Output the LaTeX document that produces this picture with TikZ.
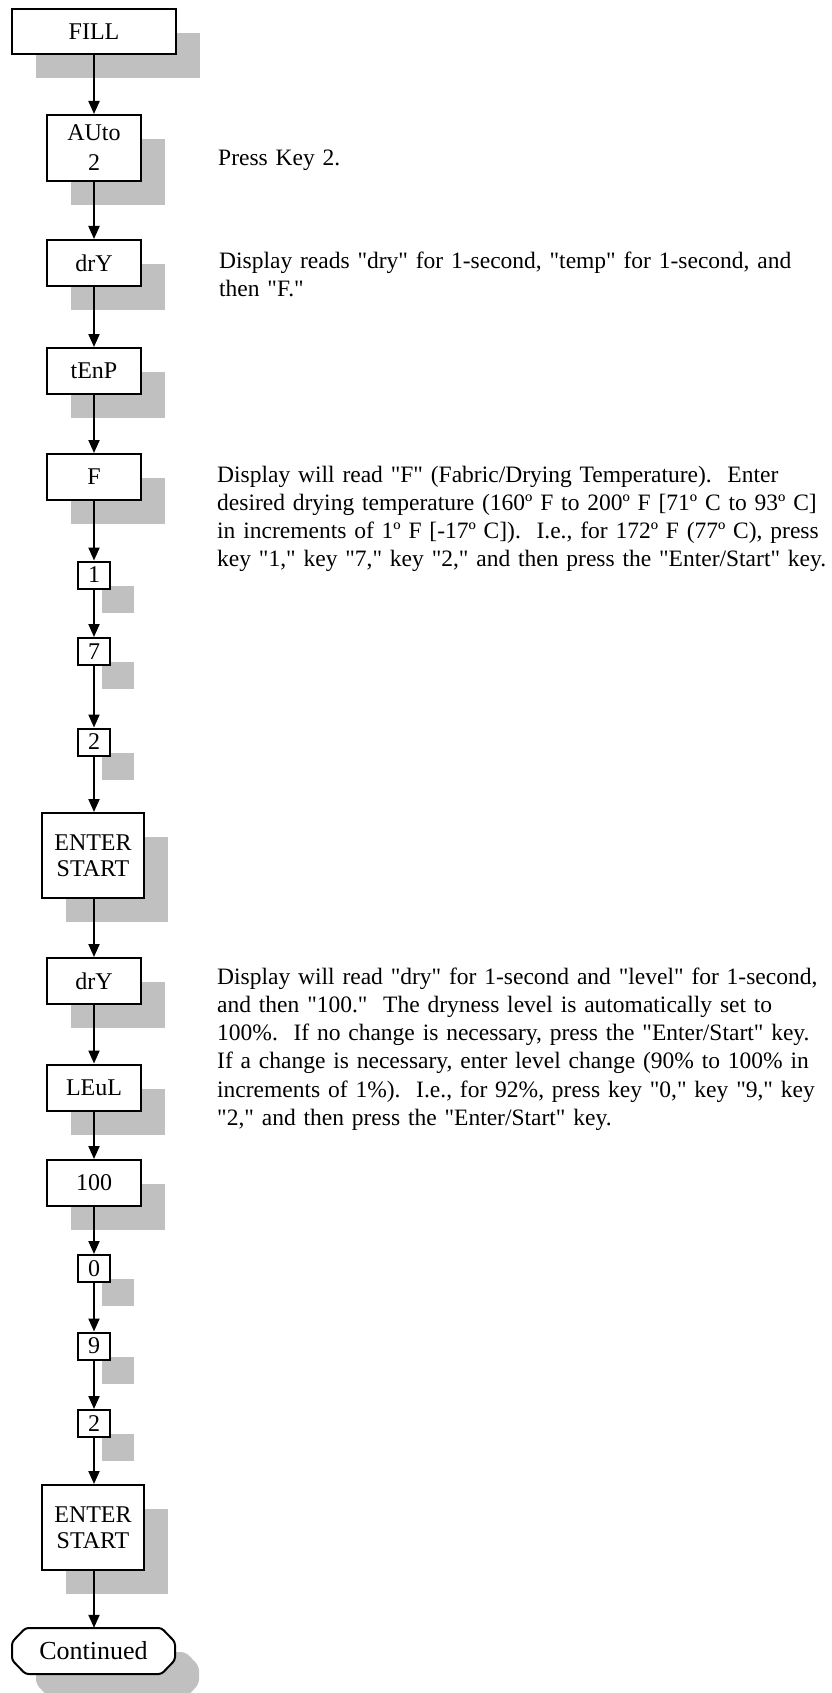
\documentclass[tikz,border=0pt]{standalone}
\usepackage{fontspec}
\setmainfont{Liberation Serif}[Ligatures=TeXOff]
\usetikzlibrary{arrows.meta,shadows}
\definecolor{shd}{RGB}{192,192,192}
\begin{document}
\begin{tikzpicture}[x=1pt,y=-1pt,
  every node/.style={font=\fontsize{24}{28.3}\selectfont},
  box/.style={draw, line width=2pt, fill=white, inner sep=0pt, align=center,
    drop shadow={shadow xshift=24pt, shadow yshift=-24pt, opacity=1, fill=shd}},
  midbox/.style={box, minimum width=94pt, minimum height=46pt},
  keybox/.style={box, minimum width=32pt, minimum height=27pt},
  entbox/.style={box, minimum width=102pt, minimum height=85pt, font=\fontsize{24}{26}\selectfont},
  arr/.style={line width=2pt, -{Triangle[width=11pt,length=13pt]}},
  desc/.style={anchor=base west, inner sep=0pt, text width=800pt, align=left,
    font=\fontsize{23.5}{28.3}\selectfont}]
\useasboundingbox (0,0) rectangle (831,1693);

% boxes
\node[box, minimum width=164pt, minimum height=45pt] (fill) at (94,31.5) {FILL};
\node[box, minimum width=94pt, minimum height=66pt, font=\fontsize{24}{30}\selectfont] (auto) at (94,148) {AUto\\2};
\node[midbox] (dry1) at (94,263) {drY};
\node[midbox] (temp) at (94,371) {tEnP};
\node[midbox] (f) at (94,477) {F};
\node[keybox] (k1) at (94,575) {1};
\node[keybox] (k7) at (94,651.5) {7};
\node[keybox] (k2) at (94,742) {2};
\node[entbox] (ent1) at (93,855.5) {ENTER\\START};
\node[midbox] (dry2) at (94,981) {drY};
\node[midbox] (level) at (94,1087.5) {LEuL};
\node[midbox] (hund) at (94,1183) {100};
\node[keybox] (k0) at (94,1268.5) {0};
\node[keybox] (k9) at (94,1346) {9};
\node[keybox] (k2b) at (94,1423.5) {2};
\node[entbox] (ent2) at (93,1527.5) {ENTER\\START};

% terminator "Continued"
\coordinate (cc) at (93.5,1651);
\begin{scope}[shift={(cc)}]
  \fill[shd, rounded corners=5pt, shift={(24pt,-24pt)}]
    (-81.5,-9) -- (-68,-23) -- (68,-23) -- (81.5,-9) -- (81.5,9) -- (68,23) -- (-68,23) -- (-81.5,9) -- cycle;
  \filldraw[fill=white, draw=black, line width=2pt, rounded corners=3pt]
    (-81.5,-9) -- (-68,-23) -- (68,-23) -- (81.5,-9) -- (81.5,9) -- (68,23) -- (-68,23) -- (-81.5,9) -- cycle;
\end{scope}
\node[inner sep=0pt, minimum width=163pt, minimum height=46pt, font=\fontsize{26}{30}\selectfont] (cont) at (cc) {Continued};

% connectors
\draw[arr] (fill) -- (auto);
\draw[arr] (auto) -- (dry1);
\draw[arr] (dry1) -- (temp);
\draw[arr] (temp) -- (f);
\draw[arr] (f) -- (k1);
\draw[arr] (k1) -- (k7);
\draw[arr] (k7) -- (k2);
\draw[arr] (k2.south) -- (ent1.north -| k2.south);
\draw[arr] (ent1.south -| k2.south) -- (dry2);
\draw[arr] (dry2) -- (level);
\draw[arr] (level) -- (hund);
\draw[arr] (hund) -- (k0);
\draw[arr] (k0) -- (k9);
\draw[arr] (k9) -- (k2b);
\draw[arr] (k2b.south) -- (ent2.north -| k2b.south);
\draw[arr] (ent2.south -| k2b.south) -- (cont.north -| k2b.south);

% descriptions
\node[desc] (d1) at (218,166) {Press Key 2.};
\node[desc] (d2) at (219,268.5) {Display reads "dry" for 1-second, "temp" for 1-second, and\\
then "F."};
\node[desc] (d3) at (217,482) {Display will read "F" (Fabric/Drying Temperature).\ \ Enter\\
desired drying temperature (160º F to 200º F [71º C to 93º C]\\
in increments of 1º F [-17º C]).\ \ I.e., for 172º F (77º C), press\\
key "1," key "7," key "2," and then press the "Enter/Start" key.};
\node[desc] (d4) at (217,984) {Display will read "dry" for 1-second and "level" for 1-second,\\
and then "100."\ \ The dryness level is automatically set to\\
100\%.\ \ If no change is necessary, press the "Enter/Start" key.\\
If a change is necessary, enter level change (90\% to 100\% in\\
increments of 1\%).\ \ I.e., for 92\%, press key "0," key "9," key\\
"2," and then press the "Enter/Start" key.};
\end{tikzpicture}
\end{document}
